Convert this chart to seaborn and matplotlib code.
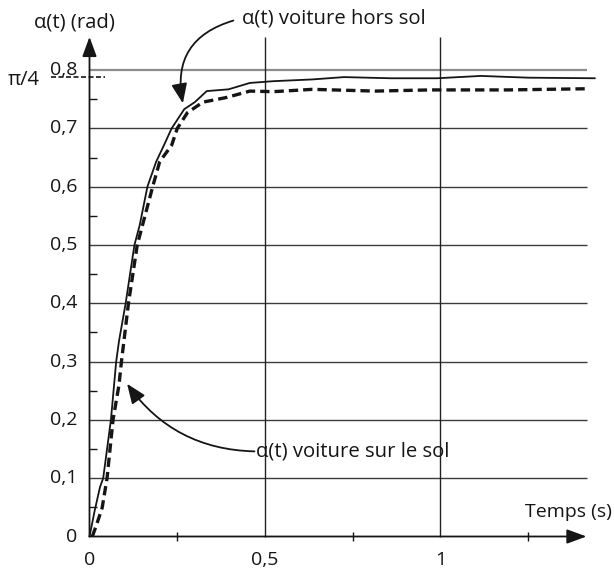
import numpy as np
import pandas as pd
import matplotlib
matplotlib.use("Agg")
import matplotlib.pyplot as plt
import seaborn as sns

# ---- data ----
t_hors = [0, 0.015, 0.03, 0.039, 0.061, 0.076, 0.084, 0.103, 0.128, 0.143, 0.165, 0.19,
          0.212, 0.234, 0.27, 0.30, 0.334, 0.396, 0.457, 0.524, 0.635, 0.725, 0.858,
          0.99, 1.115, 1.25, 1.44]
a_hors = [0, 0.045, 0.085, 0.10, 0.20, 0.30, 0.335, 0.40, 0.50, 0.534, 0.60, 0.643,
          0.671, 0.70, 0.733, 0.745, 0.764, 0.767, 0.778, 0.781, 0.784, 0.788, 0.786,
          0.786, 0.790, 0.787, 0.786]
t_sol = [0.008, 0.02, 0.036, 0.05, 0.067, 0.084, 0.091, 0.111, 0.136, 0.18, 0.20, 0.234,
         0.25, 0.279, 0.323, 0.39, 0.457, 0.524, 0.635, 0.814, 0.97, 1.193, 1.416]
a_sol = [0, 0.02, 0.049, 0.10, 0.20, 0.26, 0.30, 0.40, 0.50, 0.60, 0.643, 0.671,
         0.70, 0.727, 0.745, 0.753, 0.764, 0.763, 0.767, 0.764, 0.766, 0.766, 0.768]

y_ticks = [0, 0.1, 0.2, 0.3, 0.4, 0.5, 0.6, 0.7, 0.8]
y_labels = ["0", "0,1", "0,2", "0,3", "0,4", "0,5", "0,6", "0,7", "0,8"]
y_minor = [0.05, 0.15, 0.25, 0.35, 0.45, 0.55, 0.65, 0.75]
x_ticks = [0, 0.5, 1]
x_labels = ["0", "0,5", "1"]
x_minor = [0.25, 0.75, 1.25]
x_grid = [0.5, 1]
pi4 = np.pi / 4

sns.set_theme(style="white")
plt.rcParams['font.family'] = ['Open Sans', 'DejaVu Sans']

W, H = 614, 569
fig = plt.figure(figsize=(W / 100, H / 100), dpi=100)
ax = fig.add_axes([0, 0, 1, 1])
X0, SX = 89.5, 351.0      # pixel of t=0, pixels per second
Y0, SY = 536.5, 583.0     # pixel (from top) of alpha=0, pixels per rad
ax.set_xlim(-X0 / SX, (W - X0) / SX)
ax.set_ylim((Y0 - H) / SY, Y0 / SY)
ax.axis("off")

XEND, YEND = 1.416, 0.857
ink = "#151515"
fs = 14
fs2 = 14.6

# grid
ax.hlines(y_ticks[1:-1], 0, XEND, color="#3c3c3c", lw=1.0, zorder=1)
ax.hlines([y_ticks[-1]], 0, XEND, color="#8c8c8c", lw=1.6, zorder=1)
ax.vlines(x_grid, 0, YEND, color="#222222", lw=1.0, zorder=1)

# minor ticks
ax.hlines(y_minor, 0, 0.022, color=ink, lw=1.0)
ax.vlines(x_minor, -0.008, 0.008, color=ink, lw=1.0)

# axes arrows
astyle = "-|>,head_length=0.6,head_width=0.22"
ax.annotate("", xy=(XEND, 0), xytext=(0, 0),
            arrowprops=dict(arrowstyle=astyle, color=ink, lw=1.3, mutation_scale=20,
                            shrinkA=0, shrinkB=0))
ax.annotate("", xy=(0, YEND), xytext=(0, 0),
            arrowprops=dict(arrowstyle=astyle, color=ink, lw=1.3, mutation_scale=20,
                            shrinkA=0, shrinkB=0))

# curves
sns.lineplot(x=t_hors, y=a_hors, ax=ax, color=ink, lw=1.3, sort=False, estimator=None, zorder=3)
sns.lineplot(x=t_sol, y=a_sol, ax=ax, color=ink, lw=2.4, sort=False, estimator=None,
             linestyle=(0, (2.8, 1.5)), zorder=3)

# tick labels
for v, lab in zip(y_ticks, y_labels):
    ax.text(-0.034, v, lab, ha="right", va="center", fontsize=fs, color=ink)
for t, lab in zip(x_ticks, x_labels):
    ax.text(t, -0.04, lab, ha="center", va="center", fontsize=fs, color=ink)

# pi/4 marker
ax.text(-0.232, pi4 - 0.003, "π/4", ha="left", va="center", fontsize=fs2, color=ink)
ax.plot([-0.111, 0.045], [pi4 + 0.002, pi4 + 0.002], color=ink, lw=1.2,
        linestyle=(0, (3, 1.5)))

# axis titles
ax.text(-0.158, 0.882, "α(t) (rad)", ha="left", va="center", fontsize=fs2, color=ink)
ax.text(1.488, 0.042, "Temps (s)", ha="right", va="center", fontsize=fs, color=ink)

# annotations
hstyle = "-|>,head_length=0.6,head_width=0.24"
ax.text(0.435, 0.889, "α(t) voiture hors sol", ha="left", va="center", fontsize=fs2, color=ink)
ax.annotate("", xy=(0.266, 0.743), xytext=(0.41, 0.885),
            arrowprops=dict(arrowstyle=hstyle, color=ink,
                            lw=1.3, mutation_scale=20, shrinkA=0, shrinkB=0,
                            connectionstyle="arc3,rad=0.45"))
ax.text(0.474, 0.146, "α(t) voiture sur le sol", ha="left", va="center", fontsize=fs2, color=ink)
ax.annotate("", xy=(0.107, 0.262), xytext=(0.47, 0.146),
            arrowprops=dict(arrowstyle=hstyle, color=ink,
                            lw=1.3, mutation_scale=20, shrinkA=0, shrinkB=0,
                            connectionstyle="arc3,rad=-0.25"))

fig.savefig("out.png", dpi=100, facecolor="white")
